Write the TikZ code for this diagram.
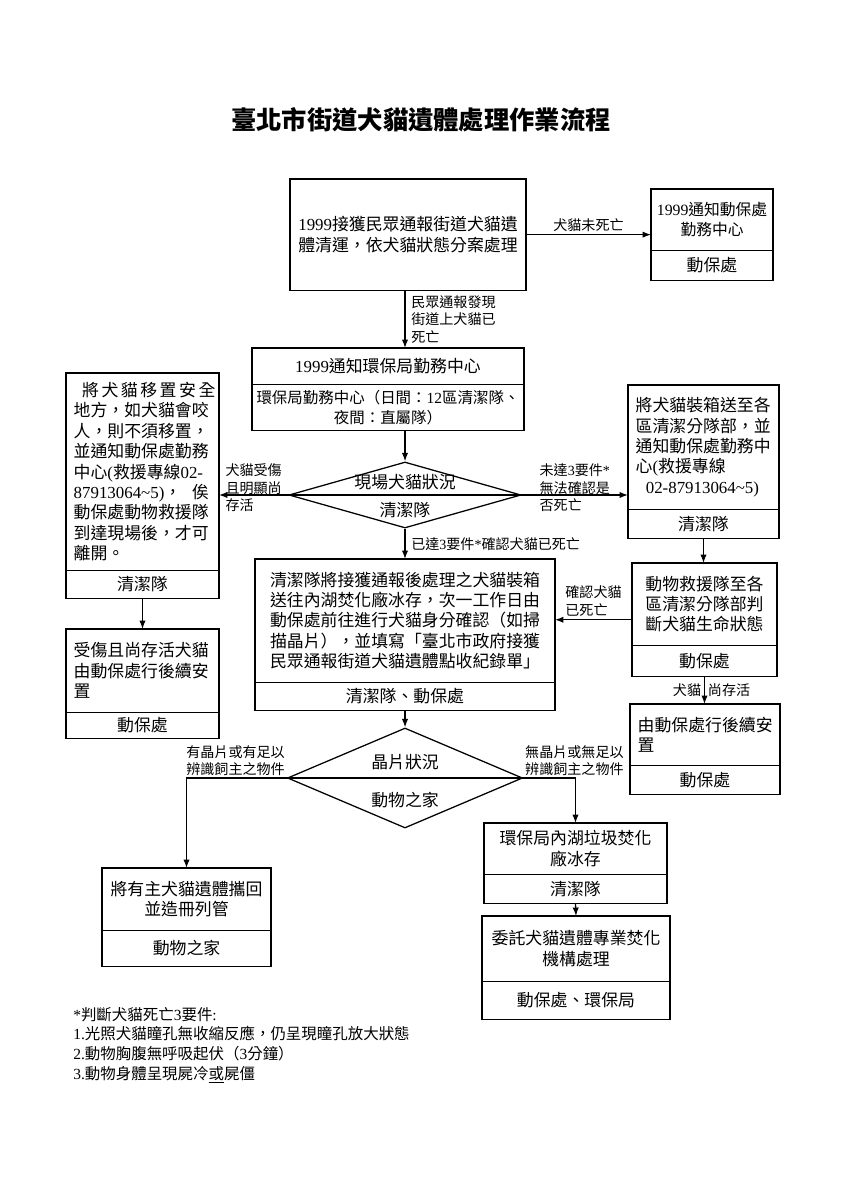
\documentclass[tikz,border=0pt]{standalone}
\usepackage{fontspec}
\setmainfont{Noto Sans CJK TC}
\newfontfamily\lat{Liberation Serif}
\usetikzlibrary{shapes.multipart,shapes.geometric,arrows.meta,positioning}

\newlength\pxu
\setlength\pxu{0.025cm}
% one part of a box: width, height (in px), text
\newcommand{\cellc}[3]{\parbox[c][#2\pxu][c]{#1\pxu}{\centering #3}}
\newcommand{\celll}[3]{\parbox[c][#2\pxu][c]{#1\pxu}{\raggedright\leftskip=5.5pt #3}}

\begin{document}
\begin{tikzpicture}[x=0.025cm, y=-0.025cm,
    font=\fontsize{12}{14.5}\selectfont,
    FLOW/.style = {rectangle split, rectangle split parts=#1,
                    draw, line width=0.9pt,
                    inner sep=0pt, outer sep=0pt, anchor=north},
    FLOW/.default = 2,
    CHK/.style = {diamond, draw, line width=0.9pt, inner sep=0pt},
    LBL/.style = {font=\fontsize{10}{12.5}\selectfont, inner sep=1pt, align=left},
    ARR/.style = {line width=0.9pt, -{Latex[length=6pt,width=4.5pt]}}
                            ]
    \useasboundingbox (0,0) rectangle (849,1200);

    \node (title) at (421,120) [font=\fontsize{18}{22}\selectfont\bfseries]
        {臺北市街道犬貓遺體處理作業流程};

    % top row
    \node (rpt)  [FLOW=1] at (408,179) {\cellc{236}{110}{{\lat 1999}接獲民眾通報街道犬貓遺\\體清運，依犬貓狀態分案處理}};
    \node (afcB) [FLOW] at (712,189) {\nodepart{one}\cellc{122}{60}{\fontsize{11.2}{14.5}\selectfont{\lat 1999}通知動保處\\勤務中心}
                        \nodepart{two}\cellc{122}{29}{動保處}};
    \node (epbC) [FLOW] at (388,348) {\nodepart{one}\cellc{272}{35}{{\lat 1999}通知環保局勤務中心}
                        \nodepart{two}\cellc{272}{45}{\fontsize{11}{14.5}\selectfont 環保局勤務中心（日間：{\lat 12}區清潔隊、\\夜間：直屬隊）}};

    % scene check
    \node (sceneD) [CHK, minimum width=5.8cm, minimum height=1.65cm] at (405,495) {};
    \node (sceneT) at ([yshift=9pt]sceneD.center) {現場犬貓狀況};
    \node (sceneB) at ([yshift=-10.5pt]sceneD.center) {清潔隊};

    % left column
    \node (moveE) [FLOW] at (142.5,373) {\nodepart{one}\celll{153}{196}{\makebox[8em][s]{\hspace{6pt}將 犬 貓 移 置 安 全}\\
                            地方，如犬貓會咬\\人，則不須移置，\\並通知動保處勤務\\中心{\lat (}救援專線{\lat 02-}\\
                            \makebox[8em][s]{{\lat 87913064\textasciitilde5)}， 俟}\\動保處動物救援隊\\到達現場後，才可\\離開。}
                        \nodepart{two}\cellc{153}{27}{清潔隊}};
    \node (hurtE2) [FLOW] at (142.5,629) {\nodepart{one}\celll{153}{82}{受傷且尚存活犬貓\\由動保處行後續安\\置}
                        \nodepart{two}\cellc{153}{25}{動保處}};

    % right column
    \node (boxF) [FLOW] at (703.5,385) {\nodepart{one}\celll{151}{123}{將犬貓裝箱送至各\\區清潔分隊部，並\\通知動保處勤務中\\心{\lat (}救援專線\\
                            \hspace{0.6em}{\lat 02-87913064\textasciitilde5)}}
                        \nodepart{two}\cellc{151}{28}{清潔隊}};
    \node (rescG) [FLOW] at (704.5,563) {\nodepart{one}\cellc{145}{81}{動物救援隊至各\\區清潔分隊部判\\斷犬貓生命狀態}
                        \nodepart{two}\cellc{145}{30}{動保處}};
    \node (careI) [FLOW] at (705,704) {\nodepart{one}\celll{150}{60}{由動保處行後續安\\置}
                        \nodepart{two}\cellc{150}{28}{動保處}};

    % middle
    \node (deadH) [FLOW] at (405,559) {\nodepart{one}\cellc{300}{122}{清潔隊將接獲通報後處理之犬貓裝箱\\送往內湖焚化廠冰存，次一工作日由\\
                            動保處前往進行犬貓身分確認（如掃\\描晶片），並填寫「臺北市政府接獲\\民眾通報街道犬貓遺體點收紀錄單」}
                        \nodepart{two}\cellc{300}{27}{清潔隊、動保處}};

    % chip check
    \node (chipD) [CHK, minimum width=5.875cm, minimum height=2.5cm] at (405,778) {};
    \node (chipT) at ([yshift=11pt]chipD.center) {晶片狀況};
    \node (chipB) at ([yshift=-15.5pt]chipD.center) {動物之家};

    \node (ownJ) [FLOW] at (186.5,868) {\nodepart{one}\cellc{169}{61}{將有主犬貓遺體攜回\\並造冊列管}
                        \nodepart{two}\cellc{169}{35}{動物之家}};
    \node (burnK) [FLOW] at (575.5,823) {\nodepart{one}\cellc{183}{50}{環保局內湖垃圾焚化\\廠冰存}
                        \nodepart{two}\cellc{183}{28}{清潔隊}};
    \node (entK) [FLOW] at (576,916) {\nodepart{one}\cellc{188}{64}{委託犬貓遺體專業焚化\\機構處理}
                        \nodepart{two}\cellc{188}{37}{動保處、環保局}};

    % connectors
    \draw[ARR] (rpt.east) -- node[LBL, above=1pt] (lblNotDead) {犬貓未死亡} (rpt.east -| afcB.west);
    \draw[ARR] (sceneD |- rpt.south) -- node[LBL, right=3pt] (lblFound) {民眾通報發現\\街道上犬貓已\\死亡} (sceneD |- epbC.north);
    \draw[ARR] (sceneD |- epbC.south) -- (sceneD.north);
    \draw[line width=0.9pt] (sceneD.west) -- (sceneD.east);
    \draw[ARR] (sceneD.west) -- node[LBL, yshift=5pt] (lblAlive) {犬貓受傷\\且明顯尚\\存活} (sceneD.west -| moveE.east);
    \draw[ARR] (sceneD.east) -- node[LBL, yshift=5pt] (lblUnsure) {未達{\lat 3}要件{\lat *}\\無法確認是\\否死亡} (sceneD.east -| boxF.west);
    \draw[ARR] (sceneD.south) -- node[LBL, right=3pt] (lblDead) {已達{\lat 3}要件{\lat *}確認犬貓已死亡} (sceneD.south |- deadH.north);
    \draw[ARR] (moveE.south) -- (hurtE2.north);
    \draw[ARR] (boxF.south) -- (boxF.south |- rescG.north);
    \draw[ARR] (rescG.west) -- node[LBL, above=1pt] (lblConf) {確認犬貓\\已死亡} (rescG.west -| deadH.east);
    \draw[ARR] (rescG.south) -- node[LBL, left=1pt] (lblCat) {犬貓} node[LBL, right=1pt] (lblLive) {尚存活} (rescG.south |- careI.north);
    \draw[ARR] (deadH.south) -- (chipD.north);
    \draw[line width=0.9pt] (chipD.west) -- (chipD.east);
    \draw[ARR] (chipD.west) -| node[LBL, pos=0, anchor=south east] (lblChip) {有晶片或有足以\\辨識飼主之物件} (ownJ.north);
    \draw[ARR] (chipD.east) -| node[LBL, pos=0, anchor=south west] (lblNoChip) {無晶片或無足以\\辨識飼主之物件} (burnK.north);
    \draw[ARR] (burnK.south) -- (entK.north);

    % footnote
    \node (note) [anchor=north west, align=left, inner sep=0pt, font=\fontsize{11}{14}\selectfont] at (73,1007)
        {{\lat *}判斷犬貓死亡{\lat 3}要件{\lat :}\\{\lat 1.}光照犬貓瞳孔無收縮反應，仍呈現瞳孔放大狀態\\
         {\lat 2.}動物胸腹無呼吸起伏（{\lat 3}分鐘）\\{\lat 3.}動物身體呈現屍冷\underline{或}屍僵};
\end{tikzpicture}
\end{document}
